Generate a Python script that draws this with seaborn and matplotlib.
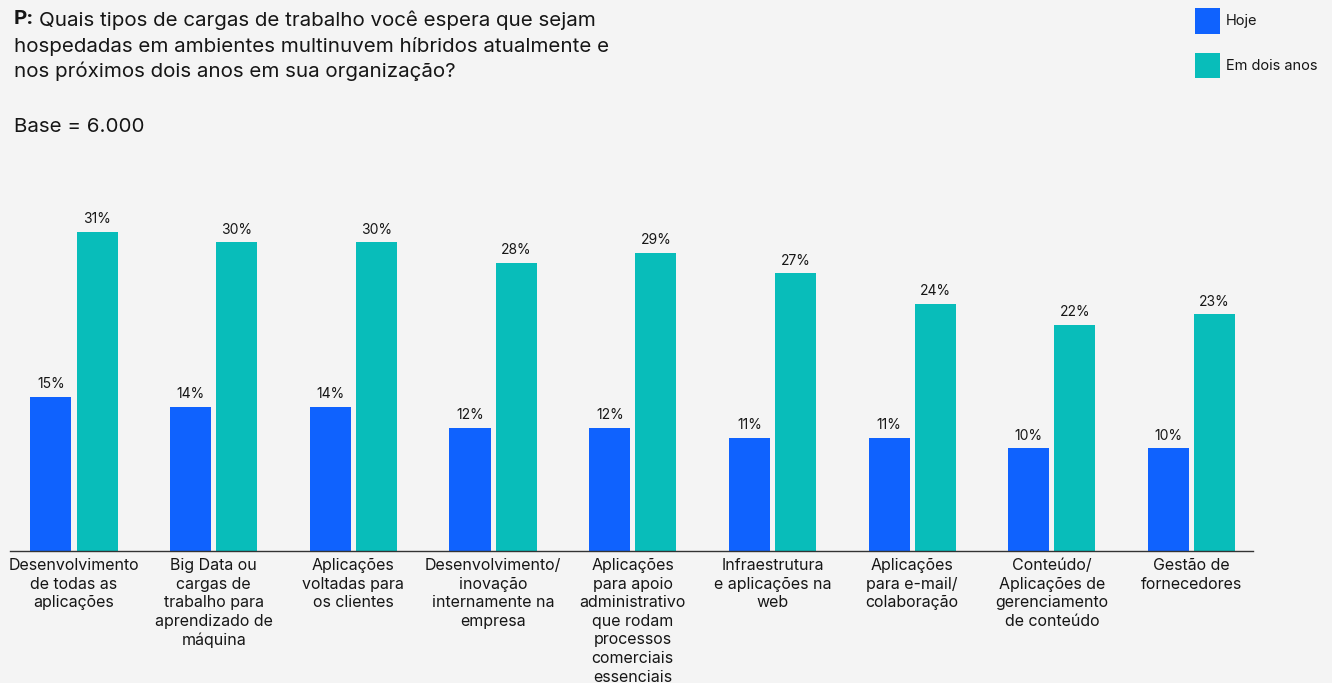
import matplotlib
matplotlib.use("Agg")
import matplotlib.pyplot as plt
import seaborn as sns
import pandas as pd
from matplotlib.patches import Patch

categories = [
    "Desenvolvimento\nde todas as\naplicações",
    "Big Data ou\ncargas de\ntrabalho para\naprendizado de\nmáquina",
    "Aplicações\nvoltadas para\nos clientes",
    "Desenvolvimento/\ninovação\ninternamente na\nempresa",
    "Aplicações\npara apoio\nadministrativo\nque rodam\nprocessos\ncomerciais\nessenciais",
    "Infraestrutura\ne aplicações na\nweb",
    "Aplicações\npara e-mail/\ncolaboração",
    "Conteúdo/\nAplicações de\ngerenciamento\nde conteúdo",
    "Gestão de\nfornecedores",
]
series_names = ["Hoje", "Em dois anos"]
hoje = [15, 14, 14, 12, 12, 11, 11, 10, 10]
dois_anos = [31, 30, 30, 28, 29, 27, 24, 22, 23]

colors = ["#0f62fe", "#08bdba"]
bg = "#f4f4f4"
txt = "#161616"

df = pd.DataFrame({
    "cat": categories * 2,
    "serie": [series_names[0]] * len(categories) + [series_names[1]] * len(categories),
    "val": hoje + dois_anos,
})

sns.set_theme(style="white")
plt.rcParams["font.family"] = ["Inter", "DejaVu Sans"]

W, H = 1332, 683
fig = plt.figure(figsize=(W / 100, H / 100), dpi=100, facecolor=bg)
ax = fig.add_axes([10 / W, 1 - 551 / H, (1253 - 10) / W, (551 - 180) / H])
ax.set_facecolor(bg)

sns.barplot(data=df, x="cat", y="val", hue="serie", order=categories,
            hue_order=series_names, palette=colors, width=0.66, gap=0.11,
            saturation=1, linewidth=0, ax=ax, legend=False)

for cont in ax.containers:
    ax.bar_label(cont, labels=[f"{v:.0f}%" for v in cont.datavalues],
                 padding=4, fontsize=10, color=txt)

ax.set_xlim(-0.458, 8.44)
ax.set_ylim(0, 36.05)
ax.set_xlabel("")
ax.set_ylabel("")
ax.set_yticks([])
for s in ["top", "right", "left"]:
    ax.spines[s].set_visible(False)
ax.spines["bottom"].set_color("#333333")
ax.spines["bottom"].set_linewidth(1.0)
ax.tick_params(axis="x", length=0, pad=5)
for lbl in ax.get_xticklabels():
    lbl.set_fontsize(11.5)
    lbl.set_color(txt)
    lbl.set_linespacing(1.3)
    lbl.set_verticalalignment("top")

fs_title = 14.8
fig.text(14 / W, 1 - 10 / H, "P:", fontsize=fs_title, fontweight="bold", color=txt, va="top")
fig.text(39 / W, 1 - 10 / H, "Quais tipos de cargas de trabalho você espera que sejam",
         fontsize=fs_title, color=txt, va="top")
fig.text(14 / W, 1 - 36.5 / H,
         "hospedadas em ambientes multinuvem híbridos atualmente e\nnos próximos dois anos em sua organização?",
         fontsize=fs_title, color=txt, va="top", linespacing=1.4)
fig.text(14 / W, 1 - 117.5 / H, "Base = 6.000", fontsize=fs_title, color=txt, va="top")

handles = [Patch(facecolor=c, edgecolor="none") for c in colors]
leg = fig.legend(handles, series_names, loc="upper left",
                 bbox_to_anchor=(1189 / W, 1 - 2 / H), frameon=False,
                 fontsize=10.5, handlelength=1.75, handleheight=2.35,
                 handletextpad=0.4, labelspacing=1.3, borderaxespad=0)
for t in leg.get_texts():
    t.set_color(txt)

fig.savefig("out.png", dpi=100, facecolor=bg)
